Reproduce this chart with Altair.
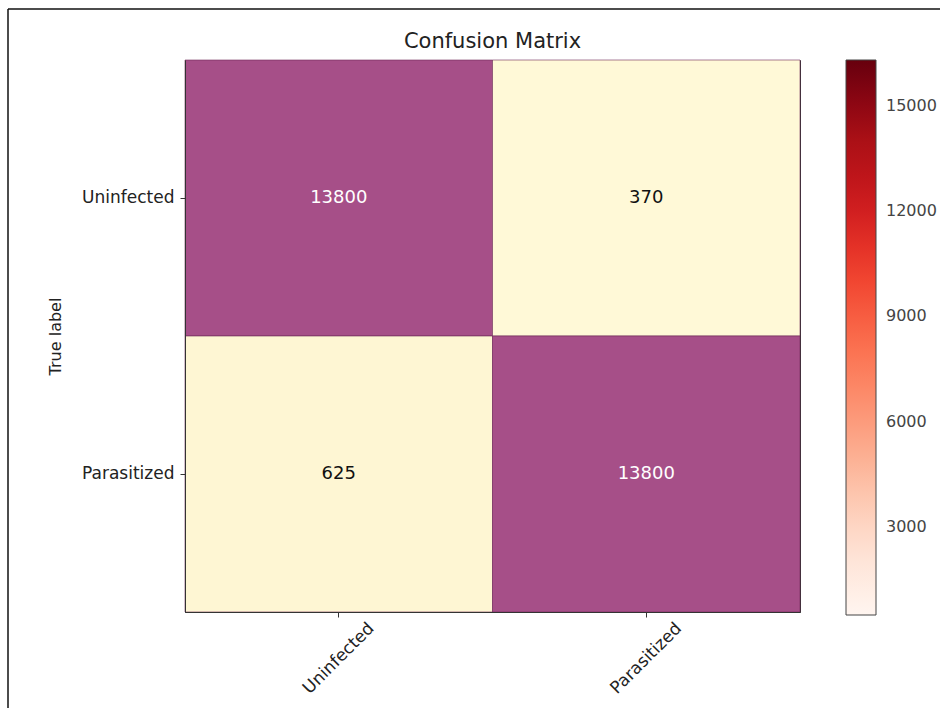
import altair as alt
import pandas as pd

true_labels = ["Uninfected", "Uninfected", "Parasitized", "Parasitized"]
pred_labels = ["Uninfected", "Parasitized", "Uninfected", "Parasitized"]
counts = [13800, 370, 625, 13800]
classes = ["Uninfected", "Parasitized"]
colorbar_ticks = [3000, 6000, 9000, 12000, 15000]
reds = ["#fff5f0", "#fee0d2", "#fcbba1", "#fc9272", "#fb6a4a",
        "#ef3b2c", "#cb181d", "#a50f15", "#67000d"]

df = pd.DataFrame({"true": true_labels, "pred": pred_labels, "count": counts})
frame_df = pd.DataFrame({"k": [0]})

FONT = "DejaVu Sans"

x_enc = alt.X("pred:N", sort=classes, title="Predicted label",
              scale=alt.Scale(paddingInner=0, paddingOuter=0),
              axis=alt.Axis(labelAngle=-45, labelAlign="center", labelBaseline="middle",
                            labelPadding=41, titlePadding=10, tickSize=5))
y_enc = alt.Y("true:N", sort=classes, title="True label",
              scale=alt.Scale(paddingInner=0, paddingOuter=0),
              axis=alt.Axis(labelPadding=6, titlePadding=18, tickSize=5))

base = alt.Chart(df)

cells = base.mark_rect(stroke="#6e2a58", strokeWidth=1, strokeOpacity=0.6).encode(
    x=x_enc,
    y=y_enc,
    fill=alt.Fill("count:Q", scale=alt.Scale(domain=[370, 13800], range=["#fff9d7", "#a64f88"]),
                  legend=None),
)

colorbar = base.mark_rect(opacity=0).encode(
    x=x_enc,
    y=y_enc,
    color=alt.Color("count:Q",
                    scale=alt.Scale(range=reds, domain=[500, 16300]),
                    legend=alt.Legend(title=None, values=colorbar_ticks, orient="right",
                                      format="d",
                                      gradientLength=555, gradientThickness=30,
                                      gradientStrokeColor="#444", gradientStrokeWidth=1,
                                      labelFontSize=16, labelColor="#444", labelFont=FONT,
                                      labelOffset=10, offset=46, labelOverlap=False)),
)

text = base.mark_text(fontSize=18, font=FONT).encode(
    x=alt.X("pred:N", sort=classes),
    y=alt.Y("true:N", sort=classes),
    text=alt.Text("count:Q"),
    color=alt.condition(alt.datum["count"] > 7000, alt.value("white"), alt.value("#111")),
)

frame_top = alt.Chart(frame_df).mark_rule(color="#111", strokeWidth=1.5).encode(
    x=alt.value(-177), x2=alt.value(760), y=alt.value(-51)
)
frame_left = alt.Chart(frame_df).mark_rule(color="#111", strokeWidth=1.5).encode(
    x=alt.value(-177), y=alt.value(-51), y2=alt.value(660)
)

chart = (
    alt.layer(cells, colorbar, text, frame_top, frame_left)
    .properties(
        width=615, height=552,
        title=alt.Title("Confusion Matrix", fontSize=21, font=FONT, fontWeight="normal",
                        color="#222", offset=-44, frame="group"),
        autosize=alt.AutoSizeParams(type="none"),
        padding={"left": 185, "top": 60, "right": 140, "bottom": 96},
    )
    .configure_view(stroke="#333", strokeWidth=1)
    .configure_axis(labelFont=FONT, titleFont=FONT, labelFontSize=17, titleFontSize=16,
                    labelColor="#222", titleColor="#222", titleFontWeight="normal",
                    domainColor="#333", tickColor="#333", grid=False)
)

chart.save("out.html", embed_options={"renderer": "svg", "actions": False})
